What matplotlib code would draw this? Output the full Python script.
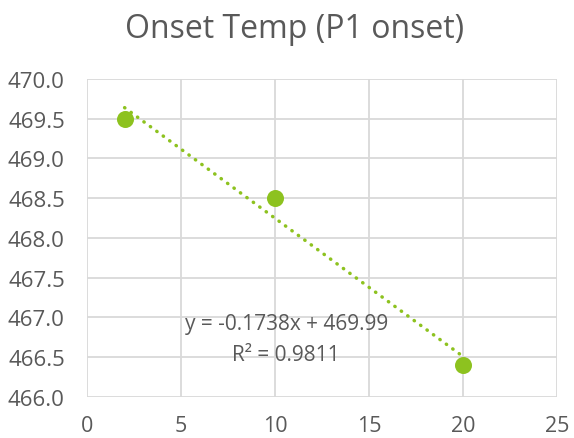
import numpy as np
import matplotlib.pyplot as plt

x = [2, 10, 20]
onset = [469.5, 468.5, 466.4]
xticks = [0, 5, 10, 15, 20, 25]
yticks = [466.0, 466.5, 467.0, 467.5, 468.0, 468.5, 469.0, 469.5, 470.0]

green = '#8DC21F'
gray = '#595959'

plt.rcParams['font.family'] = ['Open Sans', 'DejaVu Sans']

fig = plt.figure(figsize=(5.74, 4.39), dpi=100)
ax = fig.add_axes([0.1516, 0.0934, 0.8184, 0.7244])

slope, icpt = np.polyfit(x, onset, 1)
r2 = np.corrcoef(x, onset)[0, 1] ** 2
xs = np.array([min(x), max(x)])
ax.plot(xs, slope * xs + icpt, color=green, lw=2.5, linestyle=(0, (0.1, 2.2)),
        dash_capstyle='round', zorder=2)
ax.scatter(x, onset, s=150, color=green, zorder=3, linewidths=0)

ax.text(10.6, 466.92, 'y = %.4fx + %.2f' % (slope, icpt), ha='center', va='center',
        fontsize=15, color=gray)
ax.text(10.6, 466.54, 'R² = %.4f' % r2, ha='center', va='center',
        fontsize=15, color=gray)

ax.set_xlim(0, 25)
ax.set_ylim(466, 470)
ax.set_xticks(xticks)
ax.set_yticks(yticks)
ax.set_yticklabels(['%.1f' % v for v in yticks])
ax.grid(True, color='#D9D9D9', lw=1.3)
ax.set_axisbelow(True)
for s in ax.spines.values():
    s.set_visible(False)
ax.tick_params(axis='y', length=0, labelsize=16, colors=gray, pad=16)
ax.tick_params(axis='x', length=0, labelsize=15.5, colors=gray, pad=13)

fig.suptitle('Onset Temp (P1 onset)', x=0.513, y=0.97, fontsize=23, color=gray)

fig.savefig('out.png', dpi=100)
